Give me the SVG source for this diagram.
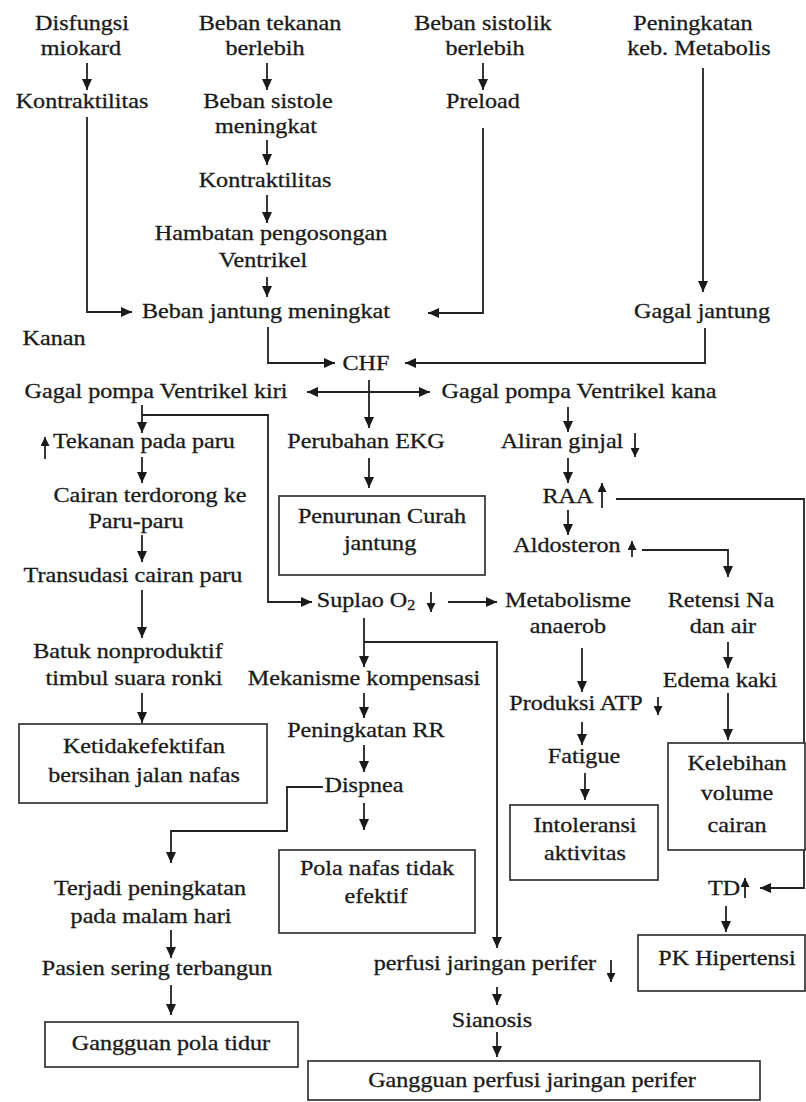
<svg xmlns="http://www.w3.org/2000/svg" width="806" height="1102" viewBox="0 0 806 1102">
<style>
text{font-family:"Liberation Serif","Times New Roman",serif;font-size:21px;fill:#1a1a1a;stroke:#1a1a1a;stroke-width:0.3;text-anchor:middle;transform-box:fill-box;transform-origin:center;transform:scaleX(1.15)}
.c{fill:none;stroke:#222;stroke-width:1.8}
.a{marker-end:url(#ah)}
.s{fill:none;stroke:#222;stroke-width:1.8;marker-end:url(#sh)}
.b{fill:#fff;stroke:#333;stroke-width:1.7}
</style>
<defs>
<marker id="ah" markerUnits="userSpaceOnUse" markerWidth="12" markerHeight="10" refX="11" refY="5" orient="auto-start-reverse"><path d="M0,0 L11,5 L0,10 z" fill="#1a1a1a"/></marker>
<marker id="sh" markerUnits="userSpaceOnUse" markerWidth="10" markerHeight="9" refX="9" refY="4.5" orient="auto"><path d="M0,0 L9,4.5 L0,9 z" fill="#1a1a1a"/></marker>
</defs>
<rect width="806" height="1102" fill="#fff"/>
<g id="connectors">
<path class="c a" d="M87,63 V90"/>
<path class="c a" d="M267,63 V90"/>
<path class="c a" d="M483,63 V90"/>
<path class="c a" d="M267,140 V165"/>
<path class="c a" d="M267,195 V223"/>
<path class="c a" d="M267,277 V297"/>
<path class="c a" d="M87,117 V312 H132"/>
<path class="c a" d="M483,128 V313 H428"/>
<path class="c a" d="M703,68 V292"/>
<path class="c a" d="M268,327 V363 H335"/>
<path class="c a" d="M705,328 V363 H405"/>
<path class="c a" d="M307,392 H430" marker-start="url(#ah)"/>
<path class="c a" d="M369,380 V428"/>
<path class="c a" d="M369,458 V488"/>
<path class="c a" d="M142,405 V433"/>
<path class="c a" d="M142,415 H268 V602 H312"/>
<path class="c a" d="M142,457 V483"/>
<path class="c a" d="M142,535 V562"/>
<path class="c a" d="M142,590 V638"/>
<path class="c a" d="M142,693 V723"/>
<path class="c a" d="M568,407 V432"/>
<path class="c a" d="M568,458 V483"/>
<path class="c a" d="M568,510 V535"/>
<path class="c a" d="M616,499 H804 V888 H760"/>
<path class="c a" d="M642,550 H728 V577"/>
<path class="c a" d="M728,642 V668"/>
<path class="c a" d="M728,693 V740"/>
<path class="c a" d="M726,906 V932"/>
<path class="c a" d="M448,602 H497"/>
<path class="c a" d="M582,648 V692"/>
<path class="c a" d="M582,722 V745"/>
<path class="c a" d="M585,773 V800"/>
<path class="c a" d="M364,618 V667"/>
<path class="c a" d="M364,642 H497 V948"/>
<path class="c a" d="M364,693 V718"/>
<path class="c a" d="M364,745 V772"/>
<path class="c a" d="M364,803 V830"/>
<path class="c a" d="M323,787 H287 V831 H171 V863"/>
<path class="c a" d="M171,930 V958"/>
<path class="c a" d="M171,985 V1015"/>
<path class="c a" d="M497,987 V1005"/>
<path class="c a" d="M497,1032 V1057"/>
<path class="s" d="M45,459 V437"/>
<path class="s" d="M635,433 V457"/>
<path class="s" d="M602,508 V483"/>
<path class="s" d="M632,557 V541"/>
<path class="s" d="M431,592 V612"/>
<path class="s" d="M658,697 V715"/>
<path class="s" d="M745,898 V878"/>
<path class="s" d="M611,960 V982"/>
</g>
<g id="disfungsi"><text x="82" y="30">Disfungsi</text><text x="81" y="55">miokard</text></g>
<g id="kontraktilitas1"><text x="82" y="108">Kontraktilitas</text></g>
<g id="beban-tekanan"><text x="270" y="30">Beban tekanan</text><text x="265" y="55">berlebih</text></g>
<g id="beban-sistole"><text x="268" y="108">Beban sistole</text><text x="266" y="133">meningkat</text></g>
<g id="kontraktilitas2"><text x="265" y="187">Kontraktilitas</text></g>
<g id="hambatan"><text x="271" y="240">Hambatan pengosongan</text><text x="263" y="267">Ventrikel</text></g>
<g id="beban-jantung"><text x="266" y="318">Beban jantung meningkat</text></g>
<g id="beban-sistolik"><text x="483" y="30">Beban sistolik</text><text x="485" y="55">berlebih</text></g>
<g id="preload"><text x="483" y="108">Preload</text></g>
<g id="peningkatan-keb"><text x="693" y="30">Peningkatan</text><text x="699" y="55">keb. Metabolis</text></g>
<g id="gagal-jantung"><text x="702" y="318">Gagal jantung</text></g>
<g id="kanan"><text x="54" y="345">Kanan</text></g>
<g id="chf"><text x="366" y="370">CHF</text></g>
<g id="gagal-kiri"><text x="156" y="398">Gagal pompa Ventrikel kiri</text></g>
<g id="gagal-kanan"><text x="579" y="398">Gagal pompa Ventrikel kana</text></g>
<g id="tekanan-paru"><text x="144" y="448">Tekanan pada paru</text></g>
<g id="perubahan-ekg"><text x="366" y="448">Perubahan EKG</text></g>
<g id="aliran-ginjal"><text x="562" y="448">Aliran ginjal</text></g>
<g id="cairan"><text x="150" y="502">Cairan terdorong ke</text><text x="136" y="528">Paru-paru</text></g>
<g id="raa"><text x="568" y="503">RAA</text></g>
<g id="penurunan"><rect class="b" x="279" y="496" width="206" height="79"/><text x="382" y="523">Penurunan Curah</text><text x="380" y="550">jantung</text></g>
<g id="aldosteron"><text x="567" y="552">Aldosteron</text></g>
<g id="transudasi"><text x="133" y="582">Transudasi cairan paru</text></g>
<g id="suplao"><text x="366" y="607">Suplao O<tspan font-size="14" dy="3">2</tspan></text></g>
<g id="metabolisme"><text x="568" y="607">Metabolisme</text><text x="568" y="633">anaerob</text></g>
<g id="retensi"><text x="721" y="607">Retensi Na</text><text x="723" y="633">dan air</text></g>
<g id="batuk"><text x="128" y="658">Batuk nonproduktif</text><text x="134" y="685">timbul suara ronki</text></g>
<g id="mekanisme"><text x="364" y="685">Mekanisme kompensasi</text></g>
<g id="edema"><text x="720" y="687">Edema kaki</text></g>
<g id="produksi-atp"><text x="576" y="710">Produksi ATP</text></g>
<g id="peningkatan-rr"><text x="366" y="737">Peningkatan RR</text></g>
<g id="ketidakefektifan"><rect class="b" x="19" y="724" width="248" height="79"/><text x="144" y="753">Ketidakefektifan</text><text x="144" y="782">bersihan jalan nafas</text></g>
<g id="fatigue"><text x="584" y="763">Fatigue</text></g>
<g id="kelebihan"><rect class="b" x="668" y="743" width="137" height="107"/><text x="737" y="770">Kelebihan</text><text x="737" y="800">volume</text><text x="737" y="832">cairan</text></g>
<g id="dispnea"><text x="364" y="792">Dispnea</text></g>
<g id="intoleransi"><rect class="b" x="510" y="805" width="148" height="75"/><text x="585" y="832">Intoleransi</text><text x="585" y="860">aktivitas</text></g>
<g id="pola-nafas"><rect class="b" x="279" y="850" width="196" height="83"/><text x="377" y="875">Pola nafas tidak</text><text x="376" y="903">efektif</text></g>
<g id="terjadi"><text x="150" y="895">Terjadi peningkatan</text><text x="151" y="923">pada malam hari</text></g>
<g id="td"><text x="724" y="895">TD</text></g>
<g id="pk-hipertensi"><rect class="b" x="638" y="935" width="167" height="56"/><text x="727" y="965">PK Hipertensi</text></g>
<g id="perfusi"><text x="485" y="970">perfusi jaringan perifer</text></g>
<g id="pasien"><text x="157" y="975">Pasien sering terbangun</text></g>
<g id="sianosis"><text x="492" y="1027">Sianosis</text></g>
<g id="gangguan-tidur"><rect class="b" x="45" y="1022" width="253" height="45"/><text x="171" y="1050">Gangguan pola tidur</text></g>
<g id="gangguan-perfusi"><rect class="b" x="308" y="1061" width="452" height="39"/><text x="532" y="1087">Gangguan perfusi jaringan perifer</text></g>
</svg>
